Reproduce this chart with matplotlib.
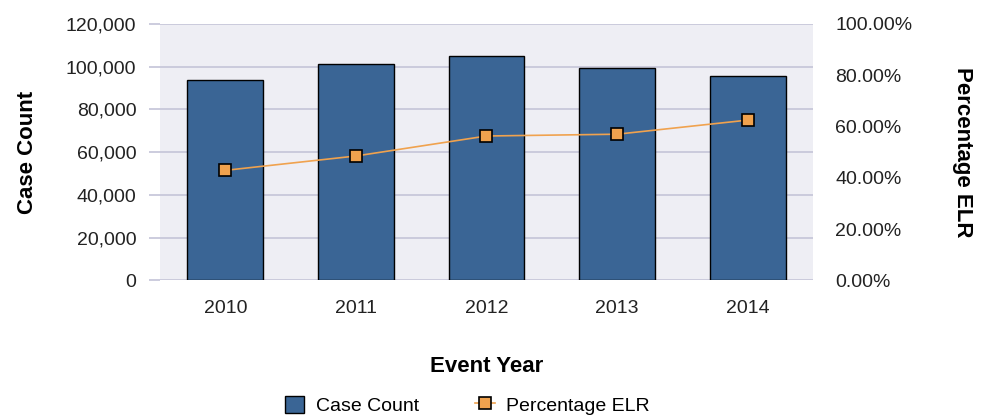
import numpy as np
import matplotlib.pyplot as plt
from matplotlib.ticker import FuncFormatter

plt.rcParams['font.family'] = ['Liberation Sans', 'DejaVu Sans']

# datos
years = ['2010', '2011', '2012', '2013', '2014']
case_count = [93800, 101400, 105000, 99300, 95700]
pct_elr = [42.9, 48.5, 56.3, 57.0, 62.5]

grid_col = '#c4c4d8'
bar_col = '#3a6595'
line_col = '#f0a24e'

fig = plt.figure(figsize=(9.84, 4.18), dpi=100)
ax = fig.add_axes([0.1626, 0.3294, 0.6636, 0.6132])
ax.set_facecolor('#eeeef4')

x = np.arange(len(years))
ax.bar(x, case_count, width=0.58, color=bar_col, edgecolor='black', linewidth=1.0,
       zorder=3, label='Case Count')
ax.set_xlim(-0.5, len(years) - 0.5)
ax.set_ylim(0, 120000)
ax.set_yticks(np.arange(0, 120001, 20000))
ax.yaxis.set_major_formatter(FuncFormatter(lambda v, p: f'{int(v):,}'))
ax.grid(axis='y', color=grid_col, linewidth=1.2, zorder=0)
ax.set_axisbelow(True)
for s in ax.spines.values():
    s.set_visible(False)
ax.tick_params(axis='y', length=8, color=grid_col, width=1.2, pad=9, labelsize=14, labelcolor='#222222')
ax.tick_params(axis='x', length=0, pad=14, labelsize=14, labelcolor='#222222')
ax.set_xticks(x)
ax.set_xticklabels(years)
ax.set_xlabel('Event Year', fontsize=16, fontweight='bold', labelpad=28)
ax.set_ylabel('Case Count', fontsize=16, fontweight='bold', labelpad=20)

# eje secundario para el porcentaje
ax2 = ax.twinx()
ax2.plot(x, pct_elr, color=line_col, linewidth=1.2, marker='s', markersize=9,
         markerfacecolor=line_col, markeredgecolor='black', markeredgewidth=1.2,
         zorder=4, label='Percentage ELR')
ax2.set_ylim(0, 100)
ax2.set_yticks(np.arange(0, 101, 20))
ax2.yaxis.set_major_formatter(FuncFormatter(lambda v, p: f'{v:.2f}%'))
for s in ax2.spines.values():
    s.set_visible(False)
ax2.tick_params(axis='y', length=0, pad=16, labelsize=14, labelcolor='#222222')
ax2.set_ylabel('Percentage ELR', fontsize=16, fontweight='bold', rotation=270, labelpad=44)

h1, l1 = ax.get_legend_handles_labels()
h2, l2 = ax2.get_legend_handles_labels()
fig.legend(h1 + h2, l1 + l2, loc='lower center', bbox_to_anchor=(0.475, -0.035), ncol=2,
           frameon=False, fontsize=14, handlelength=1.0, handleheight=1.0,
           columnspacing=2.9, handletextpad=0.6)

fig.savefig('out.png', dpi=100)
